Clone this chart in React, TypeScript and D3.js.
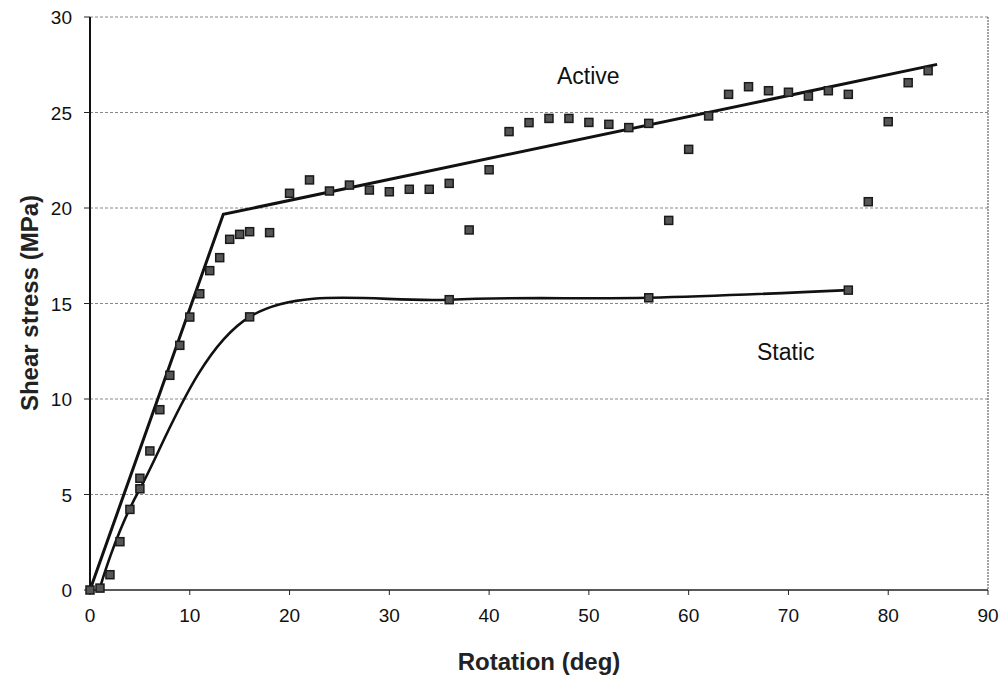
import React from "react";
import * as d3 from "d3";

const activeX = [0, 2, 3, 4, 5, 6, 7, 8, 9, 10, 11, 12, 13, 14, 15, 16, 18, 20, 22, 24, 26, 28, 30, 32, 34, 36, 38, 40, 42, 44, 46, 48, 50, 52, 54, 56, 58, 60, 62, 64, 66, 68, 70, 72, 74, 76, 78, 80, 82, 84];
const activeY = [0, 0.8, 2.53, 4.22, 5.85, 7.28, 9.44, 11.24, 12.81, 14.29, 15.51, 16.72, 17.4, 18.36, 18.62, 18.76, 18.71, 20.77, 21.47, 20.89, 21.2, 20.94, 20.85, 20.98, 20.98, 21.29, 18.85, 22.0, 24.0, 24.47, 24.69, 24.69, 24.48, 24.38, 24.21, 24.43, 19.35, 23.07, 24.82, 25.95, 26.35, 26.14, 26.06, 25.86, 26.14, 25.95, 20.33, 24.52, 26.56, 27.19];

const staticX = [1, 5, 16, 36, 56, 76];
const staticY = [0.1, 5.3, 14.3, 15.2, 15.3, 15.7];

const fitX = [0, 13.36, 84.9];
const fitY = [0, 19.67, 27.52];

const xTicks = [0, 10, 20, 30, 40, 50, 60, 70, 80, 90];
const yTicks = [0, 5, 10, 15, 20, 25, 30];

const xTitle = "Rotation (deg)";
const yTitle = "Shear stress (MPa)";
const activeLabel = "Active";
const staticLabel = "Static";

export default function App() {
  const W = 1005, H = 682;
  const x = d3.scaleLinear().domain([0, 90]).range([90, 988]);
  const y = d3.scaleLinear().domain([0, 30]).range([590, 17]);
  const font = "Liberation Sans, Arial, sans-serif";

  const fitPath = d3.line<number>().x((_, i) => x(fitX[i])).y((_, i) => y(fitY[i]))(fitX.map((v) => v)) || "";
  const staticPath = d3
    .line<number>()
    .x((_, i) => x(staticX[i]))
    .y((_, i) => y(staticY[i]))
    .curve(d3.curveCardinal.tension(0))(staticX.map((v) => v)) || "";

  const ms = 8;

  return (
    <svg width={W} height={H} style={{ position: "absolute", left: 0, top: 0, background: "#fff" }}>
      <rect x={0} y={0} width={W} height={H} fill="#fff" />
      {/* grid */}
      {yTicks.filter((t) => t > 0).map((t) => (
        <line key={"g" + t} x1={x(0)} x2={x(90)} y1={y(t)} y2={y(t)} stroke="#888" strokeWidth={1} strokeDasharray="3,2" />
      ))}
      {/* right border */}
      <line x1={x(90)} x2={x(90)} y1={y(30)} y2={y(0)} stroke="#666" strokeWidth={1.2} strokeDasharray="2,1" />
      {/* axes */}
      <line x1={x(0)} x2={x(0)} y1={y(30)} y2={y(0)} stroke="#111" strokeWidth={2} />
      <line x1={x(0)} x2={x(90)} y1={y(0)} y2={y(0)} stroke="#222" strokeWidth={1.6} />
      {yTicks.map((t) => (
        <g key={"yt" + t}>
          <line x1={x(0) - 6} x2={x(0)} y1={y(t)} y2={y(t)} stroke="#222" strokeWidth={1} />
          <text x={72} y={y(t) + 7} textAnchor="end" fontFamily={font} fontSize={19} fill="#111">{t}</text>
        </g>
      ))}
      {xTicks.map((t) => (
        <g key={"xt" + t}>
          <line x1={x(t)} x2={x(t)} y1={y(0)} y2={y(0) + 5} stroke="#222" strokeWidth={1} />
          <text x={x(t)} y={622} textAnchor="middle" fontFamily={font} fontSize={19} fill="#111">{t}</text>
        </g>
      ))}
      {/* lines */}
      <path d={staticPath} fill="none" stroke="#111" strokeWidth={2.6} />
      <path d={fitPath} fill="none" stroke="#111" strokeWidth={3} />
      {/* markers */}
      {activeX.map((v, i) => (
        <rect key={"a" + i} x={x(v) - ms / 2} y={y(activeY[i]) - ms / 2} width={ms} height={ms} fill="#555" stroke="#1a1a1a" strokeWidth={1.5} />
      ))}
      {staticX.map((v, i) => (
        <rect key={"s" + i} x={x(v) - ms / 2} y={y(staticY[i]) - ms / 2} width={ms} height={ms} fill="#555" stroke="#1a1a1a" strokeWidth={1.5} />
      ))}
      {/* labels */}
      <text x={557} y={84} fontFamily={font} fontSize={23} fill="#111">{activeLabel}</text>
      <text x={757} y={360} fontFamily={font} fontSize={23} fill="#111">{staticLabel}</text>
      <text x={539} y={670} textAnchor="middle" fontFamily={font} fontSize={24} fontWeight="bold" fill="#222">{xTitle}</text>
      <text transform={`translate(38,303) rotate(-90)`} textAnchor="middle" fontFamily={font} fontSize={24} fontWeight="bold" fill="#222">{yTitle}</text>
    </svg>
  );
}
